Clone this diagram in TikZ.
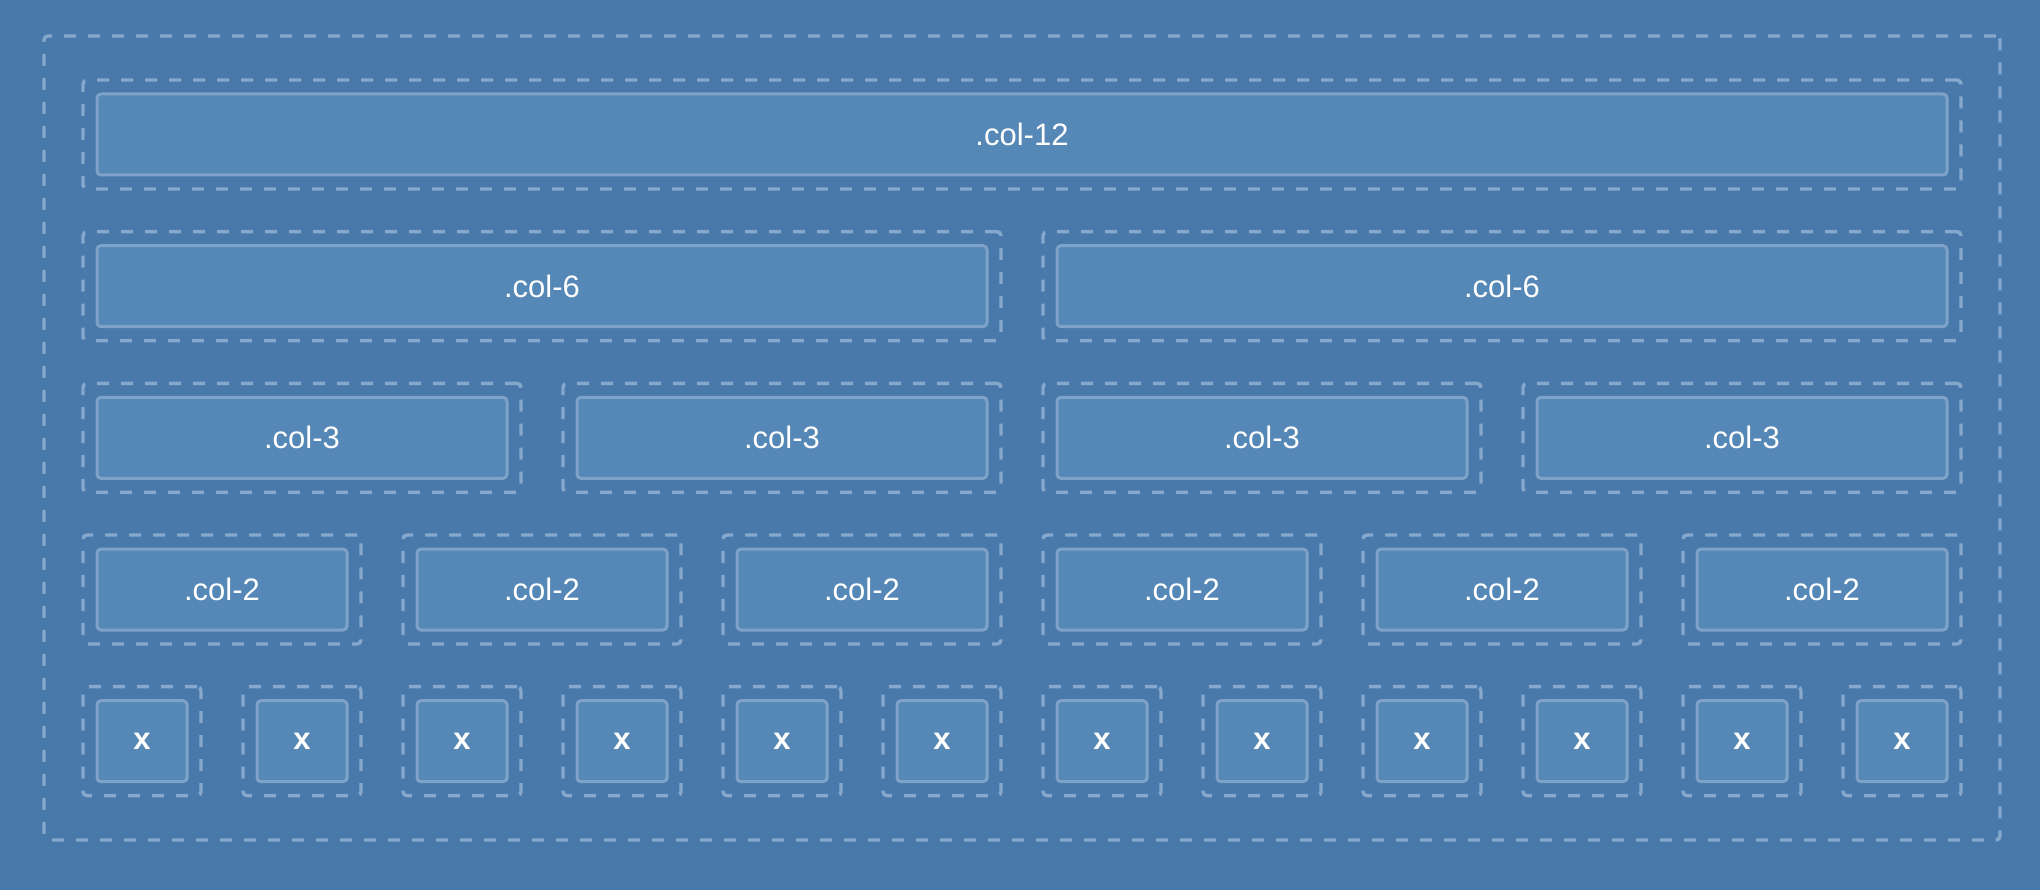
\documentclass[tikz,border=0pt]{standalone}
\usepackage{fontspec}
\setmainfont{Liberation Sans}
\definecolor{bg}{HTML}{4879AA}
\definecolor{cellfill}{HTML}{5588B6}
\definecolor{cellline}{HTML}{7FA2C8}
\definecolor{dashline}{HTML}{86A8CC}
\begin{document}
\begin{tikzpicture}[x=1pt,y=-1pt,
  wrapbox/.style={draw=dashline, line width=3.4pt, dash pattern=on 12pt off 12pt,
    rounded corners=4pt, minimum height=109pt, inner sep=0pt},
  cellbox/.style={draw=cellline, fill=cellfill, line width=3pt, rounded corners=4pt,
    minimum height=81pt, inner sep=0pt, text=white, font=\fontsize{31}{36}\selectfont}]
\fill[bg] (0,0) rectangle (2040,890);
\useasboundingbox (0,0) rectangle (2040,890);
\node[wrapbox, minimum width=1956pt, minimum height=804pt] (container) at (1022,438) {};
\foreach \r/\n in {0/12,1/6,2/3,3/2,4/1} {
  \pgfmathtruncatemacro\cnt{12/\n}
  \foreach \i in {1,...,\cnt} {
    \pgfmathsetmacro\cx{83 + (\i-1)*\n*160 + (\n*160-42)/2}
    \pgfmathsetmacro\cy{80 + \r*151.67 + 54.5}
    \pgfmathsetmacro\ww{\n*160-42}
    \pgfmathsetmacro\cw{\n*160-42-28}
    \node[wrapbox, minimum width=\ww pt] (w-\r-\i) at (\cx,\cy) {};
    \node[cellbox, minimum width=\cw pt] (c-\r-\i) at (w-\r-\i.center)
      {\ifnum\n=1 \textbf{x}\else .col-\n\fi};
  }
}
\end{tikzpicture}
\end{document}
